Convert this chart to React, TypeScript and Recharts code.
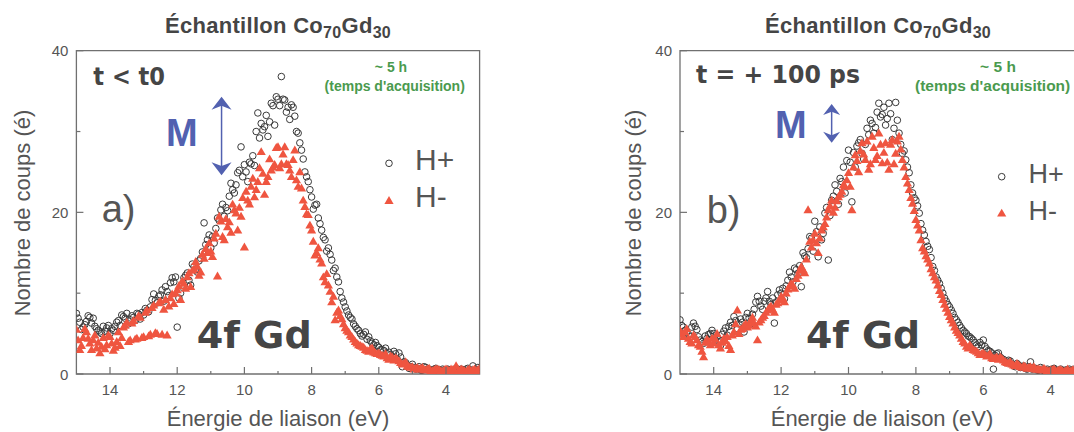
import React from 'react';
import { ScatterChart, Scatter, XAxis, YAxis, ReferenceArea, ReferenceLine } from 'recharts';

// energy grids: main scan 15.0 -> 3.0 eV every 0.1 eV, second scan on the half steps
const energy = Array.from({ length: 121 }, (_, i) => (150 - i) / 10);
const energyMid = Array.from({ length: 120 }, (_, i) => (149.5 - i) / 10);

// panel a) t < t0
const aPlus = [
  7.5, 6.4, 5.8, 6.5, 7.0, 6.9, 5.6, 5.2, 5.9, 5.7,
  5.0, 5.4, 6.4, 6.0, 7.1, 7.5, 6.7, 7.0, 7.5, 6.8,
  7.3, 7.9, 8.3, 9.9, 8.8, 9.8, 9.0, 10.2, 11.3, 11.4,
  5.8, 10.0, 11.9, 12.5, 11.0, 13.3, 12.6, 14.3, 18.7, 16.6,
  15.6, 16.2, 19.3, 20.3, 19.5, 20.2, 23.6, 22.4, 24.9, 28.1,
  25.9, 23.8, 26.0, 25.8, 32.3, 31.0, 30.6, 29.4, 33.5, 30.8,
  34.0, 36.8, 33.9, 33.0, 33.3, 31.9, 29.8, 27.7, 25.0, 23.8,
  21.9, 20.9, 19.3, 17.8, 16.6, 15.6, 14.1, 13.1, 11.4, 9.4,
  8.3, 7.3, 6.8, 5.9, 5.4, 4.7, 5.2, 4.6, 3.8, 3.9,
  3.3, 3.0, 3.2, 2.7, 2.2, 2.5, 2.6, 0.9, 1.4, 0.7,
  1.2, 0.6, 0.9, 0.5, 0.8, 0.6, 0.4, 0.7, 0.5, 0.6,
  0.3, 0.5, 0.4, 0.7, 0.3, 0.5, 0.6, 0.4, 1.0, 0.5,
  0.6,
];
const aPlusMid = [
  6.9, 5.5, 6.1, 7.2, 6.3, 5.9, 5.4, 5.0, 5.3, 6.0,
  5.6, 5.9, 6.6, 7.3, 6.9, 6.2, 7.2, 6.6, 7.4, 7.6,
  8.1, 7.7, 9.2, 9.1, 9.6, 10.4, 10.8, 9.7, 11.9, 12.0,
  9.4, 11.0, 12.2, 11.6, 13.6, 12.9, 14.0, 15.1, 16.0, 17.2,
  17.0, 18.0, 19.0, 21.0, 20.6, 22.0, 22.8, 23.4, 25.2, 24.4,
  25.0, 26.2, 27.0, 30.0, 29.2, 30.2, 32.0, 31.2, 33.2, 34.3,
  33.2, 34.0, 32.4, 31.5, 33.0, 30.0, 28.6, 26.6, 24.4, 22.8,
  20.4, 21.0, 18.6, 16.9, 15.2, 14.8, 12.8, 12.0, 10.2, 8.9,
  7.8, 7.0, 6.2, 5.6, 5.0, 4.9, 4.3, 4.1, 3.6, 3.5,
  3.0, 2.9, 2.5, 2.4, 2.8, 1.8, 2.1, 1.5, 1.0, 0.9,
  0.8, 0.7, 0.5, 0.9, 0.6, 0.4, 0.6, 0.5, 0.3, 0.5,
  0.6, 0.4, 0.3, 0.5, 0.6, 0.4, 0.7, 0.5, 0.4, 0.8,
];
const aMinus = [
  5.5, 3.0, 4.5, 5.2, 3.8, 4.2, 3.2, 2.6, 4.5, 3.6,
  4.6, 2.9, 4.0, 3.5, 5.8, 6.4, 4.2, 6.6, 4.4, 7.0,
  4.6, 7.9, 4.9, 8.5, 5.0, 9.0, 8.0, 4.8, 9.4, 8.7,
  10.4, 9.2, 11.2, 12.0, 10.8, 13.0, 13.3, 12.6, 14.3, 15.0,
  15.2, 16.8, 12.1, 18.9, 16.6, 18.2, 17.5, 20.3, 17.8, 19.5,
  15.7, 21.5, 23.2, 21.9, 23.8, 27.5, 22.2, 24.4, 25.2, 25.9,
  28.1, 26.0, 28.1, 25.9, 24.4, 27.7, 23.2, 23.0, 20.7, 19.7,
  17.8, 14.7, 15.6, 13.7, 11.4, 11.0, 8.9, 6.7, 7.9, 6.8,
  5.7, 5.2, 4.6, 4.0, 3.6, 3.4, 3.0, 2.8, 3.2, 2.6,
  2.6, 2.3, 2.5, 1.8, 2.1, 2.0, 1.6, 1.2, 1.5, 0.9,
  0.9, 0.7, 0.6, 0.8, 0.5, 0.7, 0.4, 0.6, 0.5, 0.3,
  0.6, 0.4, 0.5, 1.0, 0.4, 0.5, 0.3, 0.6, 0.5, 0.4,
  0.7,
];
const aMinusMid = [
  4.2, 3.5, 5.6, 4.4, 3.0, 4.8, 3.9, 3.4, 3.1, 4.8,
  3.8, 3.3, 5.2, 4.5, 6.0, 4.0, 6.3, 4.3, 7.2, 4.5,
  7.6, 4.7, 8.2, 5.1, 8.8, 4.9, 9.2, 8.4, 9.9, 10.0,
  10.9, 11.5, 10.6, 12.5, 12.8, 13.9, 12.2, 14.8, 15.5, 16.2,
  14.5, 17.4, 19.5, 17.0, 19.2, 18.8, 21.0, 19.9, 20.6, 21.8,
  22.6, 21.0, 24.2, 22.8, 25.5, 24.8, 23.8, 26.6, 25.6, 28.0,
  25.5, 27.2, 26.0, 25.2, 26.5, 24.0, 25.0, 21.5, 19.8, 18.4,
  16.4, 15.0, 14.2, 12.0, 12.4, 10.2, 9.6, 7.6, 7.2, 6.2,
  5.4, 4.8, 4.3, 3.8, 3.5, 3.3, 2.9, 3.1, 2.7, 2.5,
  2.4, 2.2, 2.0, 2.2, 1.7, 1.8, 1.4, 1.3, 1.0, 0.8,
  0.6, 0.8, 0.7, 0.5, 0.6, 0.4, 0.5, 0.6, 0.4, 0.5,
  0.5, 0.6, 0.4, 0.3, 0.6, 0.4, 0.5, 0.3, 0.6, 0.5,
];

// panel b) t = +100 ps
const bPlus = [
  6.7, 5.8, 5.2, 4.6, 6.3, 5.5, 4.2, 3.8, 4.4, 5.0,
  5.0, 4.6, 3.5, 5.3, 4.8, 6.4, 7.1, 5.6, 6.8, 5.2,
  7.5, 6.2, 8.0, 9.6, 8.4, 9.0, 10.2, 8.6, 6.3, 9.8,
  10.0, 9.3, 11.6, 12.0, 13.1, 12.4, 10.8, 14.6, 15.5, 16.8,
  18.9, 14.5, 16.6, 19.9, 14.1, 21.5, 23.4, 21.0, 23.8, 22.4,
  27.7, 21.3, 25.6, 28.6, 27.3, 28.4, 29.6, 31.0, 30.5, 33.5,
  32.1, 30.8, 33.5, 29.0, 33.6, 29.8, 27.3, 26.5, 24.9, 22.4,
  21.5, 19.9, 17.8, 16.4, 15.4, 13.3, 12.0, 11.2, 10.0, 9.0,
  8.3, 7.5, 6.7, 6.0, 5.4, 5.0, 4.6, 4.2, 3.6, 3.9,
  4.2, 3.1, 2.8, 0.6, 2.5, 2.1, 1.8, 1.4, 1.6, 1.0,
  1.3, 0.8, 1.0, 0.6, 1.5, 0.7, 0.5, 0.8, 0.4, 0.6,
  0.5, 0.7, 0.4, 0.6, 0.3, 0.5, 0.4, 0.6, 0.3, 0.5,
  0.4,
];
const bPlusMid = [
  6.0, 5.4, 4.9, 5.8, 5.9, 4.6, 4.0, 4.7, 4.9, 5.4,
  4.2, 4.0, 4.9, 5.7, 5.9, 6.0, 6.6, 6.2, 6.4, 7.0,
  6.9, 7.4, 8.9, 9.0, 8.0, 9.4, 9.0, 9.4, 8.9, 10.4,
  10.6, 10.9, 12.6, 11.4, 12.9, 13.4, 15.0, 14.4, 17.0, 15.2,
  17.6, 18.2, 17.4, 20.6, 19.6, 22.0, 22.6, 24.2, 25.6, 26.4,
  26.2, 27.4, 28.2, 29.0, 26.6, 30.4, 31.4, 29.8, 32.4, 31.8,
  33.0, 31.6, 32.2, 30.4, 31.4, 28.4, 27.6, 25.6, 23.4, 21.8,
  20.8, 18.6, 17.2, 15.8, 14.4, 12.8, 11.6, 10.6, 9.4, 8.6,
  7.9, 7.0, 6.4, 5.7, 5.2, 4.7, 4.4, 3.9, 3.4, 3.6,
  3.4, 2.9, 2.6, 2.3, 2.6, 1.9, 1.5, 1.7, 1.2, 0.9,
  1.1, 0.9, 0.7, 0.9, 0.6, 0.7, 0.5, 0.6, 0.5, 0.4,
  0.6, 0.5, 0.4, 0.3, 0.5, 0.6, 0.4, 0.5, 0.4, 0.3,
];
const bMinus = [
  5.4, 4.6, 5.6, 4.0, 4.8, 4.2, 3.4, 2.1, 4.3, 3.6,
  3.8, 5.0, 3.2, 4.4, 4.6, 3.0, 5.2, 7.9, 5.5, 6.0,
  5.8, 6.6, 6.3, 4.2, 6.7, 7.2, 7.9, 8.4, 7.6, 8.8,
  9.6, 8.9, 10.5, 11.2, 10.6, 12.2, 13.3, 12.5, 20.3, 15.7,
  17.4, 15.0, 17.8, 18.6, 20.3, 21.5, 20.6, 21.9, 22.6, 23.2,
  24.9, 20.3, 27.1, 25.0, 28.6, 26.5, 25.3, 29.4, 26.5, 29.8,
  26.1, 28.6, 25.3, 29.0, 27.3, 29.4, 26.5, 24.4, 22.8, 21.1,
  19.1, 17.8, 15.6, 14.6, 13.7, 12.5, 11.6, 10.3, 9.2, 8.1,
  7.1, 6.3, 5.4, 4.8, 4.0, 3.4, 3.6, 3.0, 2.8, 2.4,
  2.6, 2.2, 2.5, 1.9, 2.1, 2.1, 1.7, 1.4, 1.5, 1.1,
  1.3, 0.9, 1.0, 0.7, 0.9, 0.9, 0.6, 0.5, 0.7, 0.4,
  0.5, 0.6, 0.4, 0.5, 0.3, 0.6, 0.4, 0.5, 0.3, 0.4,
  0.5,
];
const bMinusMid = [
  5.0, 5.2, 4.4, 3.8, 4.6, 3.6, 2.8, 3.9, 4.0, 4.4,
  4.3, 3.6, 3.9, 4.1, 3.5, 4.8, 6.2, 5.0, 5.6, 6.2,
  6.0, 7.0, 5.9, 6.4, 7.0, 7.6, 8.2, 8.0, 8.6, 9.2,
  9.4, 10.0, 10.9, 11.0, 11.8, 12.8, 12.9, 14.2, 16.4, 16.6,
  16.2, 16.8, 18.2, 19.4, 20.8, 20.0, 21.4, 22.2, 23.4, 24.0,
  23.2, 25.6, 26.4, 27.6, 27.2, 28.8, 26.0, 28.0, 27.0, 28.4,
  27.4, 26.2, 28.4, 26.0, 28.8, 27.8, 25.6, 23.6, 21.8, 20.2,
  18.4, 16.6, 15.2, 14.2, 13.0, 12.0, 11.0, 9.8, 8.6, 7.6,
  6.7, 5.8, 5.1, 4.4, 3.8, 3.2, 3.3, 2.9, 2.6, 2.5,
  2.4, 2.3, 2.0, 2.0, 1.8, 1.9, 1.5, 1.3, 1.2, 1.0,
  1.1, 0.8, 0.9, 0.8, 0.7, 0.6, 0.6, 0.5, 0.5, 0.4,
  0.5, 0.4, 0.5, 0.4, 0.4, 0.3, 0.5, 0.4, 0.4, 0.3,
];

const xTicks = [4, 5, 6, 7, 8, 9, 10, 11, 12, 13, 14];
const yTicks = [0, 10, 20, 30, 40];

const axisColor = '#707070';
const labelColor = '#555';
const darkText = '#454545';
const red = '#ef5540';
const blue = '#5261b0';
const green = '#4a9a4e';
const sans = '"Liberation Sans", Arial, sans-serif';
const wide = '"DejaVu Sans", Verdana, sans-serif';

const toPoints = (main: number[], mid: number[]) => [
  ...main.map((n, i) => ({ e: energy[i], n })),
  ...mid.map((n, i) => ({ e: energyMid[i], n })),
];

const XTick = (p: any) => {
  const { x, y, payload } = p;
  const major = payload.value % 2 === 0;
  return (
    <g>
      <line x1={x} x2={x} y1={y} y2={y - (major ? 7 : 3)} stroke={axisColor} strokeWidth={1.2} />
      {major && (
        <text x={x} y={y + 21} textAnchor="middle" fontSize={15} fill={labelColor} fontFamily={sans}>
          {payload.value}
        </text>
      )}
    </g>
  );
};

const YTick = (p: any) => {
  const { x, y, payload } = p;
  const major = payload.value % 20 === 0;
  return (
    <g>
      <line x1={x} x2={x + (major ? 7 : 4)} y1={y} y2={y} stroke={axisColor} strokeWidth={1.2} />
      {major && (
        <text x={x - 8} y={y + 5.5} textAnchor="end" fontSize={15} fill={labelColor} fontFamily={sans}>
          {payload.value}
        </text>
      )}
    </g>
  );
};

const OpenCircle = (p: any) =>
  p.cx == null ? <g /> : <circle cx={p.cx} cy={p.cy} r={3.3} fill="none" stroke="#3a3a3a" strokeWidth={1} />;

const Triangle = (p: any) =>
  p.cx == null ? (
    <g />
  ) : (
    <polygon
      points={`${p.cx},${p.cy - 4.6} ${p.cx + 4.6},${p.cy + 3.3} ${p.cx - 4.6},${p.cy + 3.3}`}
      fill={red}
    />
  );

const makeArrow = (hw: number, hh: number) => (p: any) => {
  const { x1, y1, x2, y2 } = p;
  if ([x1, y1, x2, y2].some((v) => typeof v !== 'number')) return <g />;
  const top = Math.min(y1, y2);
  const bot = Math.max(y1, y2);
  const x = x1;
  return (
    <g>
      <line x1={x} x2={x} y1={top + hh * 0.6} y2={bot - hh * 0.6} stroke={blue} strokeWidth={1.5} />
      <polygon points={`${x},${top} ${x + hw / 2},${top + hh} ${x},${top + hh * 0.7} ${x - hw / 2},${top + hh}`} fill={blue} />
      <polygon points={`${x},${bot} ${x + hw / 2},${bot - hh} ${x},${bot - hh * 0.7} ${x - hw / 2},${bot - hh}`} fill={blue} />
    </g>
  );
};

type PanelProps = {
  plus: { e: number; n: number }[];
  minus: { e: number; n: number }[];
  width: number;
  yAxisWidth: number;
  marginRight: number;
  arrow: { e: number; from: number; to: number; hw: number; hh: number };
};

const Panel = ({ plus, minus, width, yAxisWidth, marginRight, arrow }: PanelProps) => (
  <ScatterChart width={width} height={432} margin={{ top: 50.7, right: marginRight, bottom: 0, left: 0 }}>
    <XAxis
      type="number"
      dataKey="e"
      domain={[3, 15]}
      reversed
      ticks={xTicks}
      interval={0}
      tick={<XTick />}
      tickLine={false}
      tickSize={0}
      tickMargin={0}
      axisLine={false}
      height={58}
      allowDataOverflow
    />
    <YAxis
      type="number"
      dataKey="n"
      domain={[0, 40]}
      ticks={yTicks}
      interval={0}
      tick={<YTick />}
      tickLine={false}
      tickSize={0}
      tickMargin={0}
      axisLine={false}
      width={yAxisWidth}
      allowDataOverflow
    />
    <ReferenceArea x1={15} x2={3} y1={0} y2={40} fill="none" stroke={axisColor} strokeWidth={1.3} />
    <ReferenceLine
      segment={[
        { x: arrow.e, y: arrow.from },
        { x: arrow.e, y: arrow.to },
      ]}
      shape={makeArrow(arrow.hw, arrow.hh)}
    />
    <Scatter name="H+" data={plus} shape={OpenCircle} isAnimationActive={false} />
    <Scatter name="H-" data={minus} shape={Triangle} isAnimationActive={false} />
  </ScatterChart>
);

const Title = ({ cx }: { cx: number }) => (
  <text
    x={cx}
    y={33.3}
    textAnchor="middle"
    fontSize={22}
    fontWeight="bold"
    letterSpacing={0.3}
    fill={darkText}
    fontFamily={sans}
  >
    Échantillon Co
    <tspan fontSize={16} dy={5}>70</tspan>
    <tspan dy={-5}>Gd</tspan>
    <tspan fontSize={16} dy={5}>30</tspan>
  </text>
);

const App = () => (
  <div
    style={{
      position: 'fixed',
      top: 0,
      left: 0,
      width: 1074,
      height: 432,
      overflow: 'hidden',
      background: '#fff',
    }}
  >
    <div style={{ position: 'absolute', left: 0, top: 0 }}>
      <Panel
        plus={toPoints(aPlus, aPlusMid)}
        minus={toPoints(aMinus, aMinusMid)}
        width={540}
        yAxisWidth={76.4}
        marginRight={60.4}
        arrow={{ e: 10.68, from: 34.3, to: 24.6, hw: 20, hh: 13 }}
      />
    </div>
    <div style={{ position: 'absolute', left: 600, top: 0 }}>
      <Panel
        plus={toPoints(bPlus, bPlusMid)}
        minus={toPoints(bMinus, bMinusMid)}
        width={500}
        yAxisWidth={80}
        marginRight={15.6}
        arrow={{ e: 10.5, from: 33.4, to: 28.6, hw: 17, hh: 11 }}
      />
    </div>
    <svg
      width={1074}
      height={432}
      style={{ position: 'absolute', left: 0, top: 0, pointerEvents: 'none' }}
    >
      <Title cx={278} />
      <Title cx={878} />

      <text x={22} y={213} dy="0.35em" transform="rotate(-90 22 213)" textAnchor="middle" fontSize={22} fill={labelColor} fontFamily={sans}>
        Nombre de coups (é)
      </text>
      <text x={633} y={213} dy="0.35em" transform="rotate(-90 633 213)" textAnchor="middle" fontSize={22} fill={labelColor} fontFamily={sans}>
        Nombre de coups (é)
      </text>
      <text x={278} y={426} textAnchor="middle" fontSize={22} fill={labelColor} fontFamily={sans}>
        Énergie de liaison (eV)
      </text>
      <text x={882} y={426} textAnchor="middle" fontSize={22} fill={labelColor} fontFamily={sans}>
        Énergie de liaison (eV)
      </text>

      <text x={93.3} y={85} fontSize={25} fontWeight="bold" fill={darkText} fontFamily={wide} textLength={71.7} lengthAdjust="spacingAndGlyphs">
        t &lt; t0
      </text>
      <text x={696} y={83} fontSize={25} fontWeight="bold" fill={darkText} fontFamily={wide} textLength={164} lengthAdjust="spacingAndGlyphs">
        t = + 100 ps
      </text>

      <text x={391} y={71.7} textAnchor="middle" fontSize={14} fontWeight="bold" fill={green} fontFamily={sans}>
        ~ 5 h
      </text>
      <text x={394.7} y={90.5} textAnchor="middle" fontSize={14} fontWeight="bold" fill={green} fontFamily={sans}>
        (temps d'acquisition)
      </text>
      <text x={998} y={71.7} textAnchor="middle" fontSize={15.5} fontWeight="bold" fill={green} fontFamily={sans}>
        ~ 5 h
      </text>
      <text x={915} y={90.5} fontSize={15.5} fontWeight="bold" fill={green} fontFamily={sans}>
        (temps d'acquisition)
      </text>

      <text x={166} y={146} fontSize={38} fontWeight="bold" fill={blue} fontFamily={sans}>
        M
      </text>
      <text x={775} y={138.3} fontSize={38} fontWeight="bold" fill={blue} fontFamily={sans}>
        M
      </text>

      <text x={101.7} y={222} fontSize={38} fill={labelColor} fontFamily={sans}>
        a)
      </text>
      <text x={706.7} y={223} fontSize={38} fill={labelColor} fontFamily={sans}>
        b)
      </text>

      <text x={196.7} y={348.3} fontSize={38} fontWeight="bold" fill={darkText} fontFamily={wide} textLength={115} lengthAdjust="spacingAndGlyphs">
        4f Gd
      </text>
      <text x={806} y={348.3} fontSize={38} fontWeight="bold" fill={darkText} fontFamily={wide} textLength={114} lengthAdjust="spacingAndGlyphs">
        4f Gd
      </text>

      <OpenCircle cx={389} cy={163.3} />
      <text x={415} y={170} fontSize={30} fill={labelColor} fontFamily={sans}>
        H+
      </text>
      <Triangle cx={389} cy={200.7} />
      <text x={415} y={206.7} fontSize={30} fill={labelColor} fontFamily={sans}>
        H-
      </text>

      <OpenCircle cx={1001.7} cy={176.7} />
      <text x={1028.5} y={183.3} fontSize={27} fill={labelColor} fontFamily={sans}>
        H+
      </text>
      <Triangle cx={1001.7} cy={213.3} />
      <text x={1028.5} y={220} fontSize={27} fill={labelColor} fontFamily={sans}>
        H-
      </text>
    </svg>
  </div>
);

export default App;
